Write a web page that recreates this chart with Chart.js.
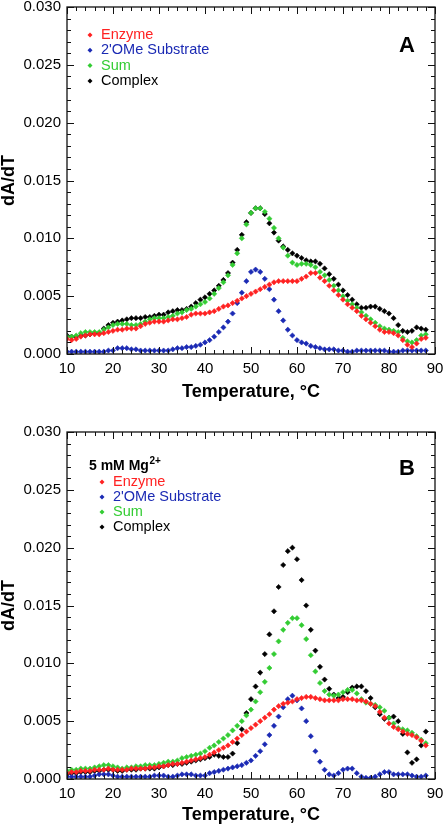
<!DOCTYPE html>
<html lang="en">
<head>
<meta charset="UTF-8">
<title>dA/dT melting profiles</title>
<script src="https://cdn.jsdelivr.net/npm/chart.js"></script>
<style>
  html, body { margin: 0; padding: 0; background: #fff; }
  #wrap { width: 444px; height: 826px; }
  canvas { display: block; }
</style>
</head>
<body>
<div id="wrap">
  <canvas id="chartA" width="444" height="405"></canvas>
  <canvas id="chartB" width="444" height="421"></canvas>
</div>
<script>
// temperatures (°C), one reading per degree
const temps = [10,11,12,13,14,15,16,17,18,19,
  20,21,22,23,24,25,26,27,28,29,
  30,31,32,33,34,35,36,37,38,39,
  40,41,42,43,44,45,46,47,48,49,
  50,51,52,53,54,55,56,57,58,59,
  60,61,62,63,64,65,66,67,68,69,
  70,71,72,73,74,75,76,77,78,79,
  80,81,82,83,84,85,86,87,88];

const xTicks = [10, 20, 30, 40, 50, 60, 70, 80, 90];
const yTicks = [0, 0.005, 0.010, 0.015, 0.020, 0.025, 0.030];

const seriesNames = ['Enzyme', "2'OMe Substrate", 'Sum', 'Complex'];

// panel A
const enzymeA = [0.0013,0.0012,0.0013,0.0015,0.0016,0.0017,0.0017,0.0017,0.0018,0.0019,
  0.0020,0.0021,0.0021,0.0022,0.0022,0.0022,0.0024,0.0026,0.0027,0.0028,
  0.0028,0.0028,0.0029,0.0030,0.0030,0.0031,0.0032,0.0034,0.0035,0.0035,
  0.0035,0.0036,0.0037,0.0039,0.0041,0.0042,0.0044,0.0046,0.0048,0.0050,
  0.0052,0.0054,0.0056,0.0058,0.0060,0.0062,0.0063,0.0063,0.0063,0.0063,
  0.0063,0.0065,0.0067,0.0070,0.0070,0.0066,0.0063,0.0059,0.0055,0.0051,
  0.0047,0.0043,0.0040,0.0037,0.0033,0.0030,0.0027,0.0024,0.0021,0.0019,
  0.0019,0.0018,0.0016,0.0012,0.0008,0.0006,0.0009,0.0013,0.0014];
const substrateA = [0.0002,0.0002,0.0002,0.0002,0.0002,0.0002,0.0002,0.0002,0.0002,0.0003,
  0.0003,0.0005,0.0005,0.0005,0.0004,0.0004,0.0003,0.0003,0.0003,0.0003,
  0.0003,0.0003,0.0003,0.0004,0.0005,0.0005,0.0006,0.0006,0.0007,0.0008,
  0.0010,0.0012,0.0015,0.0019,0.0023,0.0028,0.0035,0.0044,0.0053,0.0063,
  0.0071,0.0073,0.0071,0.0065,0.0056,0.0047,0.0037,0.0029,0.0021,0.0016,
  0.0012,0.0010,0.0009,0.0007,0.0006,0.0005,0.0004,0.0004,0.0004,0.0003,
  0.0003,0.0002,0.0002,0.0003,0.0003,0.0003,0.0003,0.0003,0.0003,0.0003,
  0.0002,0.0002,0.0002,0.0003,0.0003,0.0003,0.0003,0.0003,0.0003];
const sumA = [0.0015,0.0015,0.0016,0.0018,0.0019,0.0019,0.0019,0.0019,0.0021,0.0023,
  0.0025,0.0026,0.0026,0.0026,0.0025,0.0025,0.0026,0.0028,0.0030,0.0031,
  0.0031,0.0031,0.0032,0.0033,0.0035,0.0036,0.0038,0.0039,0.0041,0.0043,
  0.0045,0.0048,0.0052,0.0057,0.0062,0.0068,0.0077,0.0087,0.0100,0.0112,
  0.0122,0.0126,0.0126,0.0123,0.0117,0.0109,0.0100,0.0092,0.0085,0.0079,
  0.0077,0.0078,0.0078,0.0077,0.0075,0.0071,0.0068,0.0064,0.0059,0.0055,
  0.0050,0.0046,0.0043,0.0040,0.0036,0.0033,0.0030,0.0027,0.0024,0.0022,
  0.0021,0.0020,0.0019,0.0014,0.0011,0.0010,0.0012,0.0016,0.0017];
const complexA = [0.0016,0.0015,0.0015,0.0016,0.0016,0.0017,0.0018,0.0018,0.0022,0.0025,
  0.0027,0.0028,0.0029,0.0030,0.0031,0.0031,0.0031,0.0032,0.0032,0.0033,
  0.0034,0.0034,0.0036,0.0037,0.0038,0.0038,0.0039,0.0041,0.0044,0.0047,
  0.0049,0.0052,0.0055,0.0059,0.0064,0.0070,0.0079,0.0090,0.0103,0.0114,
  0.0122,0.0126,0.0126,0.0121,0.0113,0.0105,0.0098,0.0093,0.0090,0.0087,
  0.0085,0.0083,0.0081,0.0080,0.0080,0.0078,0.0074,0.0069,0.0065,0.0060,
  0.0055,0.0051,0.0047,0.0043,0.0040,0.0040,0.0041,0.0041,0.0039,0.0037,
  0.0035,0.0031,0.0025,0.0020,0.0019,0.0020,0.0023,0.0022,0.0021];

// panel B (5 mM Mg2+)
const enzymeB = [0.0005,0.0006,0.0006,0.0007,0.0007,0.0007,0.0008,0.0008,0.0008,0.0009,
  0.0008,0.0008,0.0008,0.0008,0.0009,0.0009,0.0009,0.0009,0.0010,0.0010,
  0.0011,0.0011,0.0012,0.0013,0.0013,0.0014,0.0015,0.0016,0.0017,0.0018,
  0.0019,0.0021,0.0023,0.0025,0.0027,0.0029,0.0032,0.0035,0.0038,0.0041,
  0.0044,0.0047,0.0050,0.0053,0.0056,0.0060,0.0063,0.0065,0.0066,0.0067,
  0.0069,0.0070,0.0071,0.0071,0.0070,0.0069,0.0068,0.0068,0.0068,0.0068,
  0.0069,0.0069,0.0069,0.0068,0.0068,0.0067,0.0065,0.0063,0.0058,0.0053,
  0.0048,0.0045,0.0043,0.0041,0.0039,0.0038,0.0036,0.0033,0.0029];
const substrateB = [0.0002,0.0002,0.0002,0.0002,0.0002,0.0002,0.0003,0.0004,0.0004,0.0004,
  0.0003,0.0002,0.0002,0.0002,0.0002,0.0002,0.0002,0.0002,0.0002,0.0003,
  0.0003,0.0003,0.0002,0.0002,0.0003,0.0004,0.0004,0.0004,0.0003,0.0003,
  0.0003,0.0005,0.0006,0.0007,0.0008,0.0009,0.0010,0.0011,0.0012,0.0014,
  0.0016,0.0020,0.0024,0.0030,0.0038,0.0046,0.0054,0.0062,0.0069,0.0072,
  0.0068,0.0061,0.0050,0.0037,0.0024,0.0015,0.0008,0.0004,0.0003,0.0005,
  0.0008,0.0009,0.0009,0.0005,0.0002,0.0001,0.0001,0.0002,0.0004,0.0006,
  0.0006,0.0004,0.0004,0.0004,0.0004,0.0003,0.0002,0.0002,0.0003];
const sumB = [0.0007,0.0008,0.0008,0.0009,0.0009,0.0009,0.0010,0.0011,0.0012,0.0012,
  0.0011,0.0010,0.0009,0.0010,0.0010,0.0011,0.0011,0.0012,0.0012,0.0012,
  0.0013,0.0014,0.0015,0.0015,0.0016,0.0018,0.0019,0.0020,0.0021,0.0022,
  0.0024,0.0027,0.0029,0.0032,0.0035,0.0038,0.0042,0.0046,0.0050,0.0055,
  0.0060,0.0067,0.0075,0.0084,0.0096,0.0108,0.0119,0.0129,0.0135,0.0139,
  0.0139,0.0133,0.0121,0.0107,0.0093,0.0083,0.0076,0.0073,0.0072,0.0073,
  0.0075,0.0077,0.0077,0.0074,0.0069,0.0066,0.0065,0.0064,0.0062,0.0059,
  0.0053,0.0048,0.0044,0.0043,0.0042,0.0040,0.0037,0.0034,0.0031];
const complexB = [0.0004,0.0005,0.0005,0.0006,0.0006,0.0006,0.0007,0.0007,0.0008,0.0008,
  0.0008,0.0007,0.0007,0.0008,0.0008,0.0008,0.0009,0.0009,0.0009,0.0009,
  0.0010,0.0011,0.0012,0.0012,0.0013,0.0013,0.0014,0.0015,0.0016,0.0017,
  0.0018,0.0019,0.0021,0.0020,0.0019,0.0019,0.0022,0.0031,0.0043,0.0057,
  0.0069,0.0080,0.0092,0.0108,0.0125,0.0145,0.0166,0.0185,0.0197,0.0200,
  0.0190,0.0172,0.0150,0.0129,0.0111,0.0097,0.0086,0.0078,0.0073,0.0070,
  0.0071,0.0075,0.0079,0.0080,0.0080,0.0076,0.0070,0.0062,0.0056,0.0052,
  0.0053,0.0054,0.0050,0.0039,0.0023,0.0014,0.0017,0.0029,0.0041];

const seriesColors = ['#ff2222', '#1b2ab4', '#33cc33', '#000000'];
const FONT = "'Liberation Sans', Arial, Helvetica, sans-serif";
Chart.defaults.font.family = FONT;
Chart.defaults.color = '#000';

// box round the plot with inward ticks on all four sides
const frameTicks = {
  id: 'frameTicks',
  afterDatasetsDraw(chart) {
    const { ctx, chartArea: a, scales: { x, y } } = chart;
    ctx.save();
    ctx.strokeStyle = '#111';
    ctx.lineWidth = 1.3;
    ctx.strokeRect(a.left, a.top, a.right - a.left, a.bottom - a.top);
    ctx.lineWidth = 1;
    ctx.beginPath();
    for (let v = 10; v <= 90; v += 2) {
      const px = Math.round(x.getPixelForValue(v)) + 0.5;
      const len = v % 10 === 0 ? 7 : 4;
      ctx.moveTo(px, a.bottom); ctx.lineTo(px, a.bottom - len);
      ctx.moveTo(px, a.top); ctx.lineTo(px, a.top + len);
    }
    for (let k = 0; k <= 30; k++) {
      const py = Math.round(y.getPixelForValue(k / 1000)) + 0.5;
      const len = k % 5 === 0 ? 7 : 4;
      ctx.moveTo(a.left, py); ctx.lineTo(a.left + len, py);
      ctx.moveTo(a.right, py); ctx.lineTo(a.right - len, py);
    }
    ctx.stroke();
    ctx.restore();
  }
};

// legend, optional header and panel letter inside the plot
const panelLegend = {
  id: 'panelLegend',
  afterDraw(chart, args, opts) {
    const { ctx, chartArea: a } = chart;
    ctx.save();
    ctx.textBaseline = 'middle';
    ctx.textAlign = 'left';
    if (opts.header) {
      const hx = a.left + opts.headerX, hy = a.top + opts.headerY;
      ctx.font = 'bold 14px ' + FONT;
      ctx.fillStyle = '#000';
      ctx.fillText(opts.header, hx, hy);
      const w = ctx.measureText(opts.header).width;
      ctx.font = 'bold 10px ' + FONT;
      ctx.fillText(opts.headerSup, hx + w + 0.5, hy - 5);
    }
    ctx.font = '14.5px ' + FONT;
    chart.data.datasets.forEach((ds, i) => {
      const yy = a.top + opts.firstY + i * opts.rowH;
      const mx = a.left + opts.markerX;
      const r = 2.5;
      ctx.fillStyle = ds.backgroundColor;
      ctx.beginPath();
      ctx.moveTo(mx, yy - r); ctx.lineTo(mx + r, yy);
      ctx.lineTo(mx, yy + r); ctx.lineTo(mx - r, yy);
      ctx.closePath();
      ctx.fill();
      ctx.fillText(ds.label, a.left + opts.textX, yy);
    });
    ctx.font = 'bold 22px ' + FONT;
    ctx.textAlign = 'right';
    ctx.fillStyle = '#000';
    ctx.fillText(opts.letter, a.right - opts.letterRight, a.top + opts.letterY);
    ctx.restore();
  }
};

function makeChart(id, series, layout) {
  const datasets = series.map((vals, i) => ({
    label: seriesNames[i],
    data: temps.map((t, j) => ({ x: t, y: vals[j] })),
    backgroundColor: seriesColors[i],
    borderColor: seriesColors[i],
    pointStyle: 'rectRot',
    pointRadius: 2.6,
    pointBorderWidth: 0.6,
    showLine: false
  }));

  return new Chart(document.getElementById(id), {
    type: 'scatter',
    data: { datasets },
    options: {
      responsive: false,
      animation: false,
      layout: { padding: { top: layout.top, right: 9, left: 0, bottom: 0 } },
      plugins: {
        legend: { display: false },
        tooltip: { enabled: false },
        panelLegend: layout.legend
      },
      scales: {
        x: {
          type: 'linear',
          min: 10,
          max: 90,
          afterFit: s => {
            s.height = layout.xHeight;
            s.paddingLeft = 0; s.paddingRight = 0;
          },
          afterBuildTicks: s => { s.ticks = xTicks.map(v => ({ value: v })); },
          grid: { display: false, drawTicks: false },
          border: { display: false },
          ticks: { font: { size: 15 }, padding: 6, color: '#000' },
          title: {
            display: true,
            text: 'Temperature, °C',
            font: { size: 18, weight: 'bold' },
            color: '#000',
            padding: { top: 0, bottom: layout.titlePad }
          }
        },
        y: {
          min: 0,
          max: 0.03,
          afterFit: s => {
            s.width = 67;
            s.paddingTop = 0; s.paddingBottom = 0;
          },
          afterBuildTicks: s => { s.ticks = yTicks.map(v => ({ value: v })); },
          grid: { display: false, drawTicks: false },
          border: { display: false },
          ticks: {
            font: { size: 15, lineHeight: 1 },
            padding: 6,
            color: '#000',
            callback: v => Number(v).toFixed(3)
          },
          title: {
            display: true,
            text: 'dA/dT',
            font: { size: 18, weight: 'bold', lineHeight: 1 },
            color: '#000',
            padding: 0
          }
        }
      }
    },
    plugins: [frameTicks, panelLegend]
  });
}

makeChart('chartA', [enzymeA, substrateA, sumA, complexA], {
  top: 7, xHeight: 51, titlePad: 2,
  legend: { firstY: 28, rowH: 15.3, markerX: 23, textX: 34,
            letter: 'A', letterRight: 20, letterY: 38.5 }
});

makeChart('chartB', [enzymeB, substrateB, sumB, complexB], {
  top: 27, xHeight: 47, titlePad: 0,
  legend: { header: '5 mM Mg', headerSup: '2+', headerX: 22, headerY: 34,
            firstY: 50, rowH: 15, markerX: 35, textX: 46,
            letter: 'B', letterRight: 20, letterY: 36.5 }
});
</script>
</body>
</html>
